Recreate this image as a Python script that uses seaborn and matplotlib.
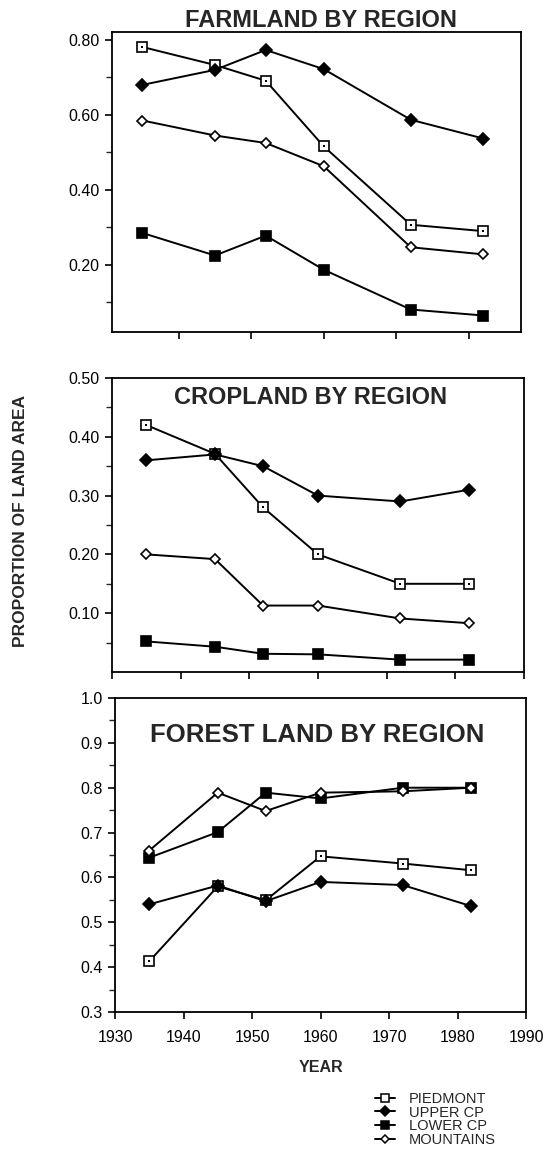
import numpy as np
import pandas as pd
import matplotlib
matplotlib.use("Agg")
import matplotlib.pyplot as plt
from matplotlib.ticker import MultipleLocator, FixedLocator, NullFormatter
from matplotlib.lines import Line2D
import seaborn as sns

# ============================
# Dados
# ============================
years = [1935, 1945, 1952, 1960, 1972, 1982]
regions = ["PIEDMONT", "UPPER CP", "LOWER CP", "MOUNTAINS"]

farm_piedmont = [0.78, 0.732, 0.69, 0.515, 0.306, 0.289]
farm_upper = [0.679, 0.719, 0.772, 0.721, 0.586, 0.536]
farm_lower = [0.284, 0.224, 0.277, 0.186, 0.080, 0.064]
farm_mountains = [0.584, 0.544, 0.524, 0.462, 0.246, 0.227]

crop_piedmont = [0.42, 0.371, 0.28, 0.20, 0.15, 0.15]
crop_upper = [0.36, 0.37, 0.35, 0.30, 0.29, 0.31]
crop_lower = [0.052, 0.043, 0.031, 0.030, 0.021, 0.021]
crop_mountains = [0.20, 0.192, 0.113, 0.113, 0.091, 0.083]

forest_piedmont = [0.413, 0.580, 0.549, 0.647, 0.631, 0.616]
forest_upper = [0.540, 0.582, 0.547, 0.590, 0.583, 0.536]
forest_lower = [0.644, 0.701, 0.789, 0.776, 0.800, 0.800]
forest_mountains = [0.660, 0.789, 0.748, 0.789, 0.792, 0.800]

panels = [
    ("FARMLAND BY REGION", [farm_piedmont, farm_upper, farm_lower, farm_mountains]),
    ("CROPLAND BY REGION", [crop_piedmont, crop_upper, crop_lower, crop_mountains]),
    ("FOREST LAND BY REGION", [forest_piedmont, forest_upper, forest_lower, forest_mountains]),
]

# estilo de cada série: (marker, face, size)
styles = {
    "PIEDMONT": ("s", "white", 6.5),
    "UPPER CP": ("D", "black", 6),
    "LOWER CP": ("s", "black", 7),
    "MOUNTAINS": ("D", "white", 5),
}

sns.set_style("ticks")
plt.rcParams["font.family"] = ["Liberation Sans", "DejaVu Sans"]

fig = plt.figure(figsize=(5.46, 11.75), dpi=100)
W, H = 546, 1175
boxes = [(112, 521, 32, 332), (112, 524, 378, 672), (115, 526, 698, 1012)]
axes = []
for l, r, t, b in boxes:
    axes.append(fig.add_axes([l / W, 1 - b / H, (r - l) / W, (b - t) / H]))

for ax, (title, series) in zip(axes, panels):
    for name, vals in zip(regions, series):
        mk, face, ms = styles[name]
        df = pd.DataFrame({"year": years, "value": vals})
        sns.lineplot(data=df, x="year", y="value", ax=ax, color="black",
                     linewidth=1.4, marker=mk, markersize=ms,
                     markerfacecolor=face, markeredgecolor="black",
                     markeredgewidth=1.2, label=name)
        if name == "PIEDMONT":
            sns.scatterplot(data=df, x="year", y="value", ax=ax, color="black",
                            marker="s", s=3, linewidth=0, zorder=5)
    ax.set_xlabel("")
    ax.set_ylabel("")
    ax.get_legend().remove()
    for sp in ax.spines.values():
        sp.set_linewidth(1.3)
        sp.set_color("black")
    ax.tick_params(which="major", direction="out", length=5, width=1.2,
                   labelsize=11.5, pad=4, colors="black")
    ax.tick_params(which="minor", direction="out", length=4, width=1.0)

# painel 1 - farmland
ax1, ax2, ax3 = axes
ax1.set_xlim(1930.8, 1987.2)
ax1.set_ylim(0.02, 0.82)
ax1.yaxis.set_major_locator(FixedLocator([0.2, 0.4, 0.6, 0.8]))
ax1.yaxis.set_minor_locator(FixedLocator([0.1, 0.3, 0.5, 0.7]))
ax1.set_yticklabels(["0.20", "0.40", "0.60", "0.80"])
ax1.xaxis.set_major_locator(FixedLocator([1940, 1950, 1960, 1970, 1980]))
ax1.xaxis.set_major_formatter(NullFormatter())
ax1.text(0.51, 1.0, "FARMLAND BY REGION", transform=ax1.transAxes,
         ha="center", va="bottom", fontsize=17, fontweight="bold")

# painel 2 - cropland
ax2.set_xlim(1930, 1990)
ax2.set_ylim(0, 0.5)
ax2.yaxis.set_major_locator(FixedLocator([0.1, 0.2, 0.3, 0.4, 0.5]))
ax2.yaxis.set_minor_locator(FixedLocator([0.05, 0.15, 0.25, 0.35, 0.45]))
ax2.set_yticklabels(["0.10", "0.20", "0.30", "0.40", "0.50"])
ax2.xaxis.set_major_locator(MultipleLocator(10))
ax2.xaxis.set_major_formatter(NullFormatter())
ax2.text(0.483, 0.932, "CROPLAND BY REGION", transform=ax2.transAxes,
         ha="center", va="center", fontsize=17, fontweight="bold")
ax2.set_ylabel("PROPORTION OF LAND AREA", fontsize=12.5, fontweight="bold")
ax2.yaxis.set_label_coords(-0.205, 0.514)

# painel 3 - forest
ax3.set_xlim(1930, 1990)
ax3.set_ylim(0.3, 1.0)
ax3.yaxis.set_major_locator(MultipleLocator(0.1))
ax3.yaxis.set_minor_locator(MultipleLocator(0.05))
ax3.yaxis.set_major_formatter(plt.FormatStrFormatter("%.1f"))
ax3.xaxis.set_major_locator(MultipleLocator(10))
ax3.tick_params(axis="x", which="major", pad=8)
ax3.text(0.491, 0.881, "FOREST LAND BY REGION", transform=ax3.transAxes,
         ha="center", va="center", fontsize=18.5, fontweight="bold")
ax3.set_xlabel("YEAR", fontsize=11.5, fontweight="bold", labelpad=11)

# legenda
handles = []
for name in regions:
    mk, face, ms = styles[name]
    handles.append(Line2D([0], [0], color="black", linewidth=1.4, marker=mk,
                          markersize=ms * 0.8, markerfacecolor=face,
                          markeredgecolor="black", markeredgewidth=1.1))
fig.legend(handles, regions, loc="upper left",
           bbox_to_anchor=(375 / W, 1 - 1092 / H), frameon=False,
           fontsize=10.5, handlelength=1.4, handletextpad=0.9,
           labelspacing=-0.03, borderpad=0, borderaxespad=0)

fig.savefig("out.png", dpi=100)
